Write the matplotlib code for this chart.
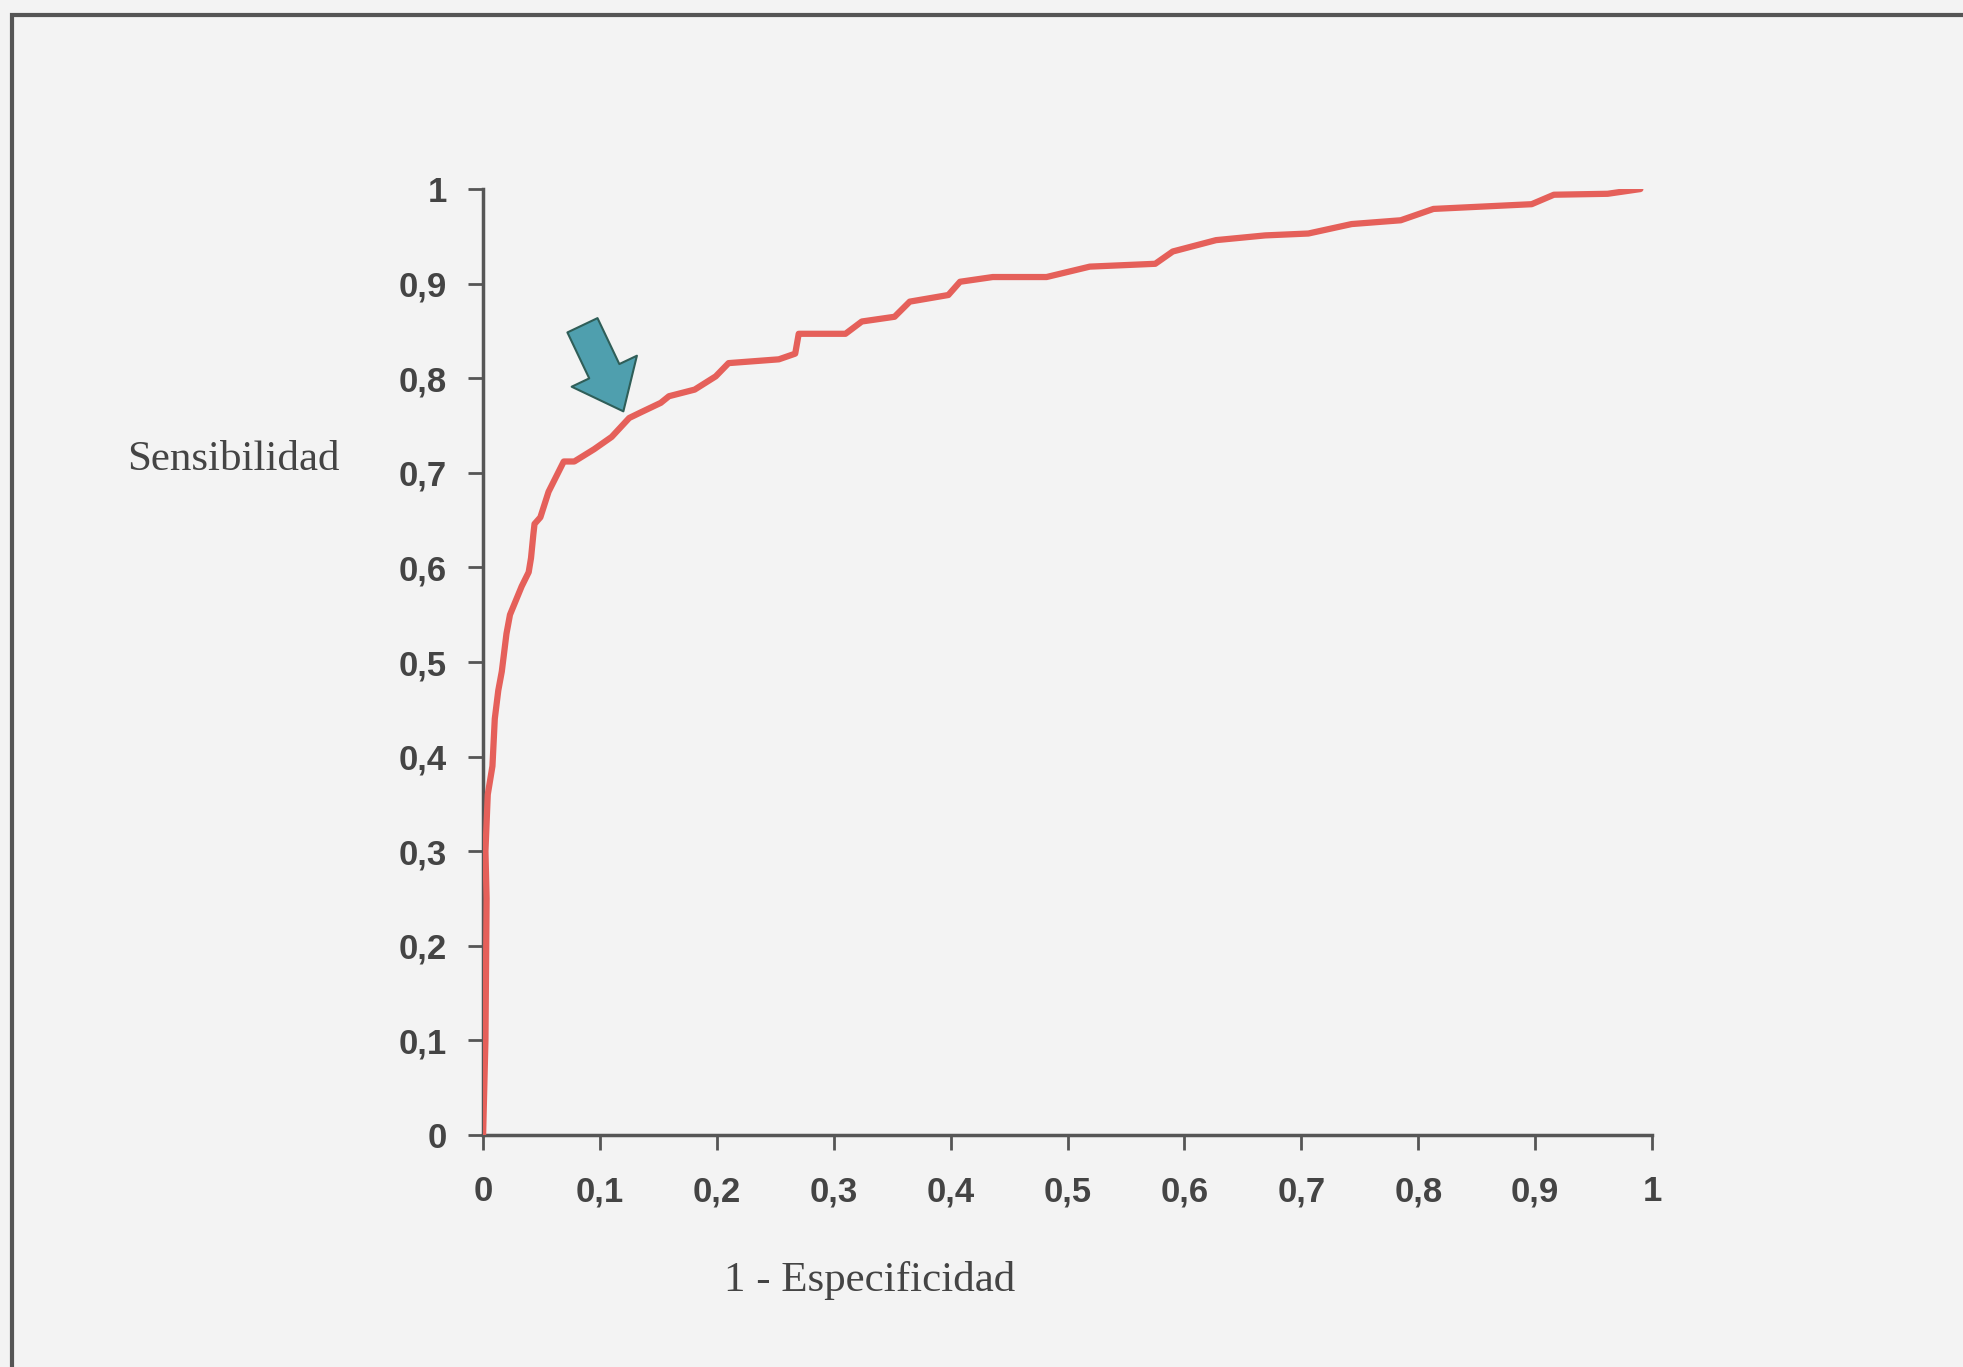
import numpy as np
import matplotlib.pyplot as plt
from matplotlib.patches import Rectangle

# ROC curve
fpr = [0.0, 0.002, 0.003, 0.002, 0.004, 0.008, 0.010, 0.013, 0.016, 0.020,
       0.023, 0.033, 0.039, 0.041, 0.043, 0.044, 0.049, 0.056, 0.069, 0.078,
       0.095, 0.110, 0.125, 0.135, 0.152, 0.159, 0.181, 0.199, 0.210, 0.253,
       0.267, 0.270, 0.310, 0.324, 0.352, 0.365, 0.398, 0.408, 0.436, 0.482,
       0.519, 0.575, 0.590, 0.627, 0.669, 0.706, 0.743, 0.785, 0.813, 0.897,
       0.916, 0.962, 0.990]
tpr = [0.0, 0.10, 0.25, 0.30, 0.36, 0.39, 0.44, 0.47, 0.49, 0.53,
       0.55, 0.58, 0.595, 0.61, 0.635, 0.646, 0.653, 0.68, 0.712, 0.712,
       0.725, 0.738, 0.758, 0.764, 0.774, 0.781, 0.788, 0.802, 0.816, 0.820,
       0.826, 0.847, 0.847, 0.860, 0.865, 0.881, 0.888, 0.902, 0.907, 0.907,
       0.918, 0.921, 0.934, 0.946, 0.951, 0.953, 0.963, 0.967, 0.979, 0.984,
       0.994, 0.995, 1.0]

ticks = np.round(np.arange(0, 1.01, 0.1), 1)
tick_labels = ['0' if t == 0 else '1' if t == 1 else ('%.1f' % t).replace('.', ',') for t in ticks]

# cut-off point marked by the arrow
cut_point = (0.12, 0.765)
arrow_tail = (0.085, 0.856)

bg = '#f3f3f3'
fig = plt.figure(figsize=(19.63, 13.67), dpi=100, facecolor=bg)
ax = fig.add_axes([0.2461, 0.1697, 0.5955, 0.692])
ax.set_facecolor(bg)

ax.plot(fpr, tpr, color='#e5605a', lw=4.5, solid_joinstyle='round',
        solid_capstyle='round', zorder=3)

ax.annotate('', xy=cut_point, xytext=arrow_tail,
            arrowprops=dict(arrowstyle='simple,head_length=1.6,head_width=2.6,tail_width=1.2',
                            mutation_scale=20, fc='#4f9fae', ec='#2f5e58', lw=1.5,
                            shrinkA=0, shrinkB=0), zorder=4)

ax.set_xlim(0, 1)
ax.set_ylim(0, 1)
ax.set_xticks(ticks)
ax.set_yticks(ticks)
ax.set_xticklabels(tick_labels)
ax.set_yticklabels(tick_labels)
for s in ['top', 'right']:
    ax.spines[s].set_visible(False)
for s in ['left', 'bottom']:
    ax.spines[s].set_color('#555555')
    ax.spines[s].set_linewidth(2.5)
ax.tick_params(direction='out', length=11, width=2, color='#555555',
               labelsize=25, labelcolor='#444444')
ax.tick_params(axis='y', pad=15)
ax.tick_params(axis='x', pad=18)
for lab in ax.get_xticklabels() + ax.get_yticklabels():
    lab.set_family('Liberation Sans')
    lab.set_fontweight('bold')

fig.text(0.0647, 0.6635, 'Sensibilidad', family='Liberation Serif', fontsize=31,
         color='#444444', ha='left', va='center')
fig.text(0.4432, 0.0636, '1 - Especificidad', family='Liberation Serif', fontsize=31,
         color='#444444', ha='center', va='center')

# outer frame, cut off on the right and bottom
fig.patches.append(Rectangle((12 / 1963, -0.1), 1.2, 1.1 - 15 / 1367,
                             transform=fig.transFigure, fill=False,
                             ec='#555555', lw=3))

fig.savefig('out.png', dpi=100, facecolor=bg)
